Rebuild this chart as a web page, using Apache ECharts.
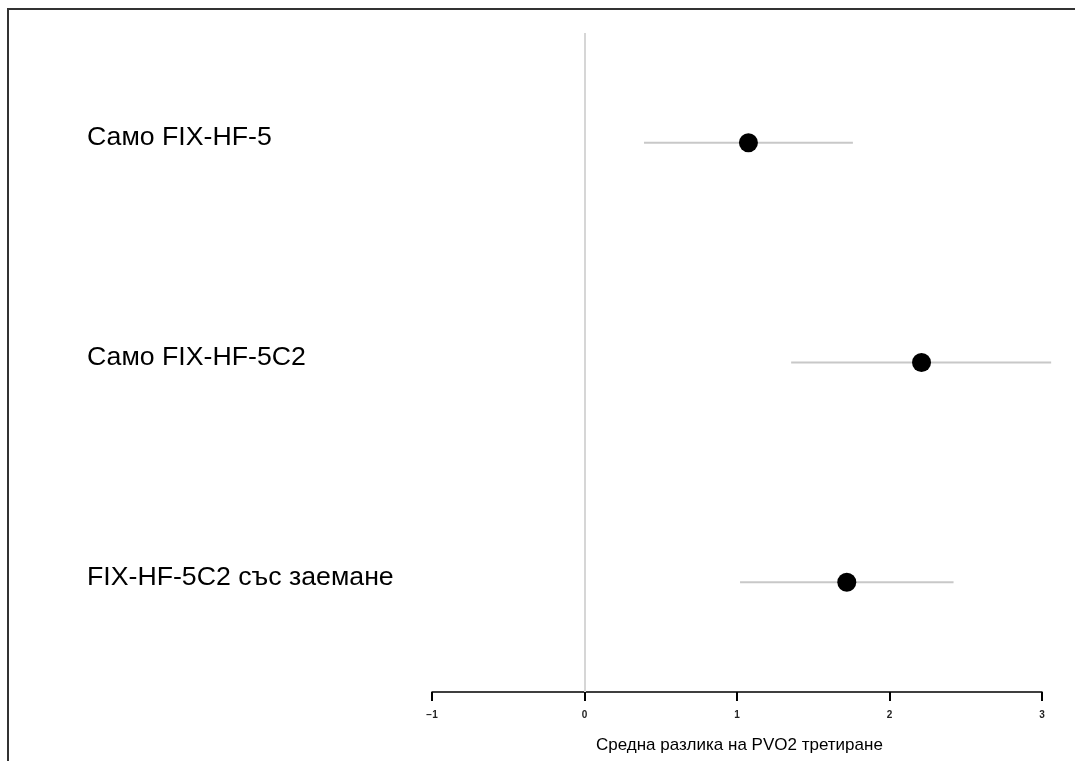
<!DOCTYPE html>
<html lang="bg">

<head>
  <meta charset="UTF-8">
  <title>Средна разлика на PVO2</title>
  <script src="https://cdn.jsdelivr.net/npm/echarts@6/dist/echarts.min.js"></script>
</head>
<style>
  * {
    margin: 0px;
    padding: 0px;
  }

  #chart {
    width: 1075px;
    height: 761px;
  }
</style>

<body>
  <div id="chart"></div>
</body>
<script>
  // данни
  var groups = ['Само FIX-HF-5', 'Само FIX-HF-5C2', 'FIX-HF-5C2 със заемане']
  var means = [1.075, 2.21, 1.72]
  var lower = [0.39, 1.355, 1.02]
  var upper = [1.76, 3.06, 2.42]
  var xTicks = [-1, 0, 1, 2, 3]
  var xTitle = 'Средна разлика на PVO2 третиране'

  var chart = echarts.init(document.getElementById('chart'));
  var font = '"Liberation Sans", Arial, sans-serif'

  var ciData = groups.map(function (g, i) {
    return [lower[i], upper[i], i]
  })
  var pointData = groups.map(function (g, i) {
    return [means[i], i]
  })

  chart.setOption({
    backgroundColor: '#fff',
    animation: false,
    grid: {
      left: 432,
      right: 33,
      top: 33,
      bottom: 69
    },
    graphic: [{
      type: 'polyline',
      shape: { points: [[8, 761], [8, 9], [1075, 9]] },
      style: { stroke: '#333', lineWidth: 2, fill: null }
    }, {
      type: 'text',
      left: 596,
      top: 737,
      style: {
        text: xTitle,
        font: '17px ' + font,
        fill: '#000'
      }
    }],
    xAxis: {
      type: 'value',
      min: xTicks[0],
      max: xTicks[xTicks.length - 1],
      interval: 1,
      splitLine: { show: false },
      axisLine: { show: true, onZero: false, lineStyle: { color: '#000', width: 1.5 } },
      axisTick: { show: true, length: 9, lineStyle: { color: '#000', width: 2 } },
      axisLabel: {
        margin: 18,
        fontSize: 10,
        fontWeight: 'bold',
        color: '#222',
        fontFamily: font,
        formatter: function (v) {
          return String(v).replace('-', '\u2212')
        }
      }
    },
    yAxis: {
      type: 'category',
      data: groups,
      inverse: true,
      axisLine: { show: false },
      axisTick: { show: false },
      splitLine: { show: false },
      axisLabel: {
        align: 'left',
        margin: 345,
        fontSize: 26.7,
        color: '#000',
        fontFamily: font,
        verticalAlign: 'bottom',
        lineHeight: 10
      }
    },
    series: [{
      type: 'custom',
      clip: false,
      silent: true,
      encode: { x: [0, 1], y: 2 },
      data: ciData,
      renderItem: function (params, api) {
        var a = api.coord([api.value(0), api.value(2)])
        var b = api.coord([api.value(1), api.value(2)])
        return {
          type: 'line',
          shape: { x1: a[0], y1: a[1], x2: b[0], y2: b[1] },
          style: { stroke: '#c8c8c8', lineWidth: 2 }
        }
      }
    }, {
      type: 'scatter',
      symbolSize: 19,
      itemStyle: { color: '#000', opacity: 1 },
      data: pointData,
      z: 5,
      markLine: {
        silent: true,
        symbol: 'none',
        label: { show: false },
        lineStyle: { color: '#d6d6d6', width: 2, type: 'solid' },
        data: [{ xAxis: 0 }]
      }
    }]
  });
</script>

</html>
